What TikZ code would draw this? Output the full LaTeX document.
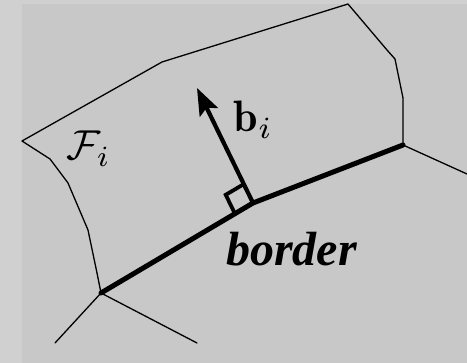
\documentclass[tikz,border=0pt]{standalone}
\usepackage{fontspec}
\newfontfamily\timesfont{Liberation Serif}
\usetikzlibrary{arrows.meta,calc}
\definecolor{outerbg}{RGB}{208,208,208}
\definecolor{innerbg}{RGB}{200,200,200}
\tikzset{
  thinline/.style={line width=1.3pt, line join=round, line cap=round},
  boldline/.style={line width=5pt, line join=round, line cap=round},
  mathlabel/.style={inner sep=0pt, anchor=base west, scale=4.4},
}
\begin{document}
\begin{tikzpicture}[x=1pt,y=-1pt]
  \fill[outerbg] (0,0) rectangle (467,363);
  \fill[innerbg] (22,4) rectangle (467,363);
  \useasboundingbox (0,0) rectangle (467,363);
  % key points
  \coordinate (L) at (22,141);
  \coordinate (A) at (162,62);
  \coordinate (T) at (348,4);
  \coordinate (R1) at (387,50);
  \coordinate (R2) at (395,59);
  \coordinate (R3) at (403,98);
  \coordinate (C) at (403,145);
  \coordinate (K) at (253,203);
  \coordinate (D) at (101,293);
  \coordinate (E) at (467,174);
  \coordinate (G1) at (55,343);
  \coordinate (G2) at (197,343);
  \coordinate (S1) at (50,159);
  \coordinate (S2) at (68,183);
  \coordinate (S3) at (88,230);
  \coordinate (S4) at (97,273);
  \coordinate (tip) at (197,88);
  % thin outline
  \draw[thinline] (D) -- (S4) -- (S3) -- (S2) -- (S1) -- (L) -- (A) -- (T)
        -- (R1) -- (R2) -- (R3) -- (C);
  \draw[thinline] (C) -- (E);
  \draw[thinline] (D) -- (G1);
  \draw[thinline] (D) -- (G2);
  % border
  \draw[boldline] (D) -- (K) -- (C);
  % normal arrow
  \draw[line width=4.2pt, -{Stealth[length=27pt,width=20pt,inset=5pt]}] (K) -- (tip);
  % right angle marker
  \coordinate (P1) at ($(K)!21pt!(tip)$);
  \coordinate (P2) at ($(K)!21pt!(D)$);
  \coordinate (P3) at ($(P1)+(P2)-(K)$);
  \draw[line width=3.8pt, line join=miter] (P1) -- (P3) -- (P2);
  % labels
  \node[mathlabel, scale=0.95] (F) at (66,160) {$\mathcal{F}_i$};
  \node[mathlabel] (b) at (233,132) {$\mathbf{b}_i$};
  \node[inner sep=0pt, anchor=base west] (border) at (226,266)
     {\fontsize{48}{48}\selectfont\timesfont\bfseries\itshape border};
\end{tikzpicture}
\end{document}
